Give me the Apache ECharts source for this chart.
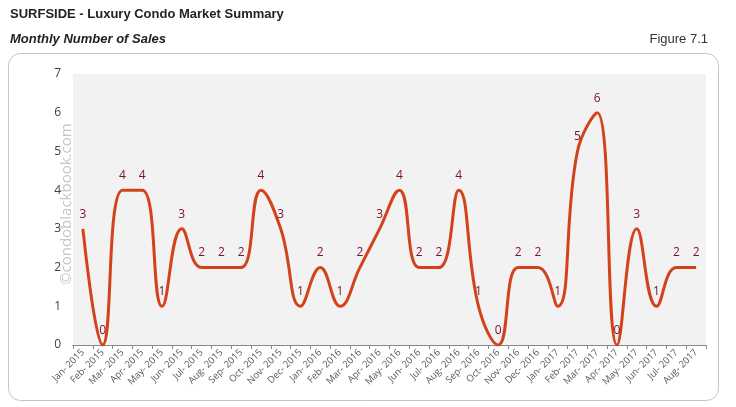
<!DOCTYPE html>
<html><head><meta charset="utf-8">
<script src="https://cdn.jsdelivr.net/npm/echarts@6/dist/echarts.min.js"></script>
<style>html,body{margin:0;padding:0;background:#fff}#c{width:736px;height:407px}</style>
</head><body><div id="c"></div>
<script>
const categories = ["Jan- 2015","Feb- 2015","Mar- 2015","Apr- 2015","May- 2015","Jun- 2015","Jul- 2015","Aug- 2015","Sep- 2015","Oct- 2015","Nov- 2015","Dec- 2015",
"Jan- 2016","Feb- 2016","Mar- 2016","Apr- 2016","May- 2016","Jun- 2016","Jul- 2016","Aug- 2016","Sep- 2016","Oct- 2016","Nov- 2016","Dec- 2016",
"Jan- 2017","Feb- 2017","Mar- 2017","Apr- 2017","May- 2017","Jun- 2017","Jul- 2017","Aug- 2017"];
const sales = [3,0,4,4,1,3,2,2,2,4,3,1, 2,1,2,3,4,2,2,4,1,0,2,2, 1,5,6,0,3,1,2,2];
const yTicks = [0,1,2,3,4,5,6,7];

const chart = echarts.init(document.getElementById('c'));
chart.setOption({
  animation:false,
  graphic:[
    {type:'rect',shape:{x:8.5,y:53.5,width:710,height:347,r:12},style:{fill:'#fff',stroke:'#c4c4c4',lineWidth:1},z:-10},
    {type:'rect',shape:{x:73,y:74,width:633,height:271},style:{fill:'#f2f2f2'},z:-5},
    {type:'text',left:10,top:8,style:{text:'SURFSIDE - Luxury Condo Market Summary',font:'bold 13px "Liberation Sans Narrow", "Arial Narrow", "Liberation Sans", sans-serif',fill:'#222'}},
    {type:'text',left:10,top:33,style:{text:'Monthly Number of Sales',font:'italic bold 13px "Liberation Sans Narrow", "Arial Narrow", "Liberation Sans", sans-serif',fill:'#222'}},
    {type:'text',right:28,top:33,style:{text:'Figure 7.1',font:'13px "Liberation Sans Narrow", "Arial Narrow", "Liberation Sans", sans-serif',fill:'#333'}},
    {type:'text',x:59,y:285,rotation:Math.PI/2,style:{text:'©condoblackbook.com',font:'15px "Open Sans", sans-serif',fill:'#c6c6c6'},z:-1}
  ],
  grid:{left:73,right:30,top:74,bottom:62,containLabel:false},
  xAxis:{type:'category',data:categories,boundaryGap:true,
    axisLine:{lineStyle:{color:'#888'}},
    axisTick:{show:true,alignWithLabel:false,lineStyle:{color:'#888'},length:4},
    axisLabel:{interval:0,rotate:45,fontSize:9.5,color:'#595959',fontFamily:'"Open Sans", sans-serif',margin:6}},
  yAxis:{type:'value',min:0,max:7,interval:1,
    axisLine:{show:false},axisTick:{show:false},splitLine:{show:false},
    axisLabel:{fontSize:12,color:'#404040',fontFamily:'"Open Sans", sans-serif',margin:12}},
  series:[{type:'line',data:sales,smooth:0.45,symbol:'circle',symbolSize:1,showSymbol:true,
    itemStyle:{color:'rgba(0,0,0,0)'},
    lineStyle:{color:'#d2431c',width:3},
    labelLayout:{hideOverlap:false},
    label:{show:true,position:'top',distance:8,color:'#7a1228',fontSize:12,fontFamily:'"Open Sans", sans-serif'}}]
});
</script></body></html>
